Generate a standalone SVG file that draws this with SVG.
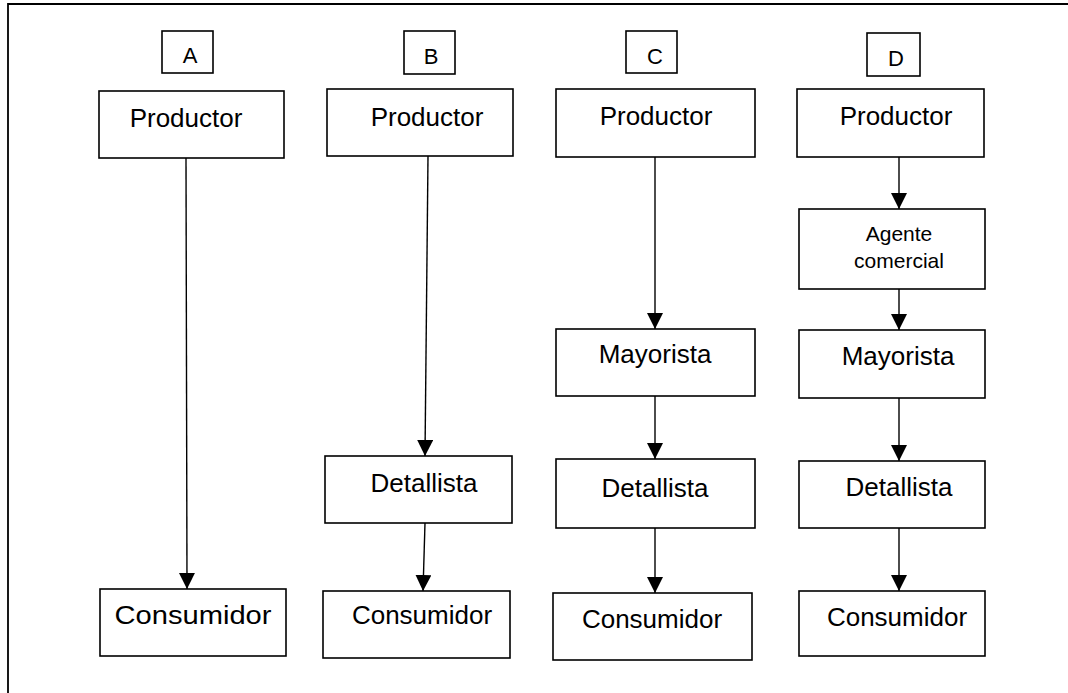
<svg xmlns="http://www.w3.org/2000/svg" width="1068" height="693" viewBox="0 0 1068 693">
  <style>
    .box { fill: #ffffff; stroke: #000000; stroke-width: 1.6; }
    .lbl { font-family: "Liberation Sans", Arial, sans-serif; font-size: 26px; fill: #000000; text-anchor: middle; }
    .tag { font-family: "Liberation Sans", Arial, sans-serif; font-size: 22px; fill: #000000; text-anchor: middle; }
    .small { font-family: "Liberation Sans", Arial, sans-serif; font-size: 21px; fill: #000000; text-anchor: middle; }
    .edge { stroke: #000000; stroke-width: 1.4; fill: none; marker-end: url(#arrow); }
  </style>
  <defs>
    <marker id="arrow" markerUnits="userSpaceOnUse" markerWidth="16" markerHeight="16" refX="16" refY="8" orient="auto">
      <path d="M0,0 L16,8 L0,16 z" fill="#000000"/>
    </marker>
  </defs>

  <rect width="1068" height="693" fill="#ffffff"/>
  <!-- outer frame -->
  <path d="M8,693 V4 H1068" fill="none" stroke="#000000" stroke-width="1.8"/>

  <!-- column tags -->
  <g id="tagA"><rect class="box" x="162" y="31" width="51" height="42"/><text class="tag" x="190" y="63">A</text></g>
  <g id="tagB"><rect class="box" x="404" y="31" width="51" height="43"/><text class="tag" x="431" y="64">B</text></g>
  <g id="tagC"><rect class="box" x="626" y="31" width="51" height="42"/><text class="tag" x="655" y="64">C</text></g>
  <g id="tagD"><rect class="box" x="867" y="33" width="53" height="43"/><text class="tag" x="896" y="66">D</text></g>

  <!-- column A -->
  <g id="prodA"><rect class="box" x="99" y="91" width="185" height="67"/><text class="lbl" x="186" y="127">Productor</text></g>
  <g id="consA"><rect class="box" x="100" y="589" width="186" height="67"/><text class="lbl" x="193" y="624" textLength="157" lengthAdjust="spacingAndGlyphs">Consumidor</text></g>

  <!-- column B -->
  <g id="prodB"><rect class="box" x="327" y="89" width="186" height="67"/><text class="lbl" x="427" y="126">Productor</text></g>
  <g id="detB"><rect class="box" x="325" y="456" width="187" height="67"/><text class="lbl" x="424" y="492">Detallista</text></g>
  <g id="consB"><rect class="box" x="323" y="591" width="187" height="67"/><text class="lbl" x="422" y="624">Consumidor</text></g>

  <!-- column C -->
  <g id="prodC"><rect class="box" x="556" y="89" width="199" height="68"/><text class="lbl" x="656" y="125">Productor</text></g>
  <g id="mayC"><rect class="box" x="556" y="329" width="199" height="67"/><text class="lbl" x="655" y="363">Mayorista</text></g>
  <g id="detC"><rect class="box" x="556" y="459" width="199" height="69"/><text class="lbl" x="655" y="497">Detallista</text></g>
  <g id="consC"><rect class="box" x="553" y="593" width="199" height="67"/><text class="lbl" x="652" y="628">Consumidor</text></g>

  <!-- column D -->
  <g id="prodD"><rect class="box" x="797" y="89" width="187" height="68"/><text class="lbl" x="896" y="125">Productor</text></g>
  <g id="agenteD"><rect class="box" x="799" y="209" width="186" height="80"/><text class="small" x="899" y="241">Agente</text><text class="small" x="899" y="268">comercial</text></g>
  <g id="mayD"><rect class="box" x="799" y="330" width="186" height="68"/><text class="lbl" x="898" y="365">Mayorista</text></g>
  <g id="detD"><rect class="box" x="799" y="461" width="186" height="67"/><text class="lbl" x="899" y="496">Detallista</text></g>
  <g id="consD"><rect class="box" x="799" y="591" width="186" height="65"/><text class="lbl" x="897" y="626">Consumidor</text></g>

  <!-- connectors -->
  <g id="connectors">
    <line class="edge" x1="186" y1="158" x2="187" y2="589"/>
    <line class="edge" x1="428" y1="156" x2="425" y2="456"/>
    <line class="edge" x1="425" y1="523" x2="423" y2="591"/>
    <line class="edge" x1="655" y1="157" x2="655" y2="329"/>
    <line class="edge" x1="655" y1="396" x2="655" y2="459"/>
    <line class="edge" x1="655" y1="528" x2="655" y2="593"/>
    <line class="edge" x1="899" y1="157" x2="899" y2="209"/>
    <line class="edge" x1="899" y1="289" x2="899" y2="330"/>
    <line class="edge" x1="899" y1="398" x2="899" y2="461"/>
    <line class="edge" x1="899" y1="528" x2="899" y2="591"/>
  </g>
</svg>
